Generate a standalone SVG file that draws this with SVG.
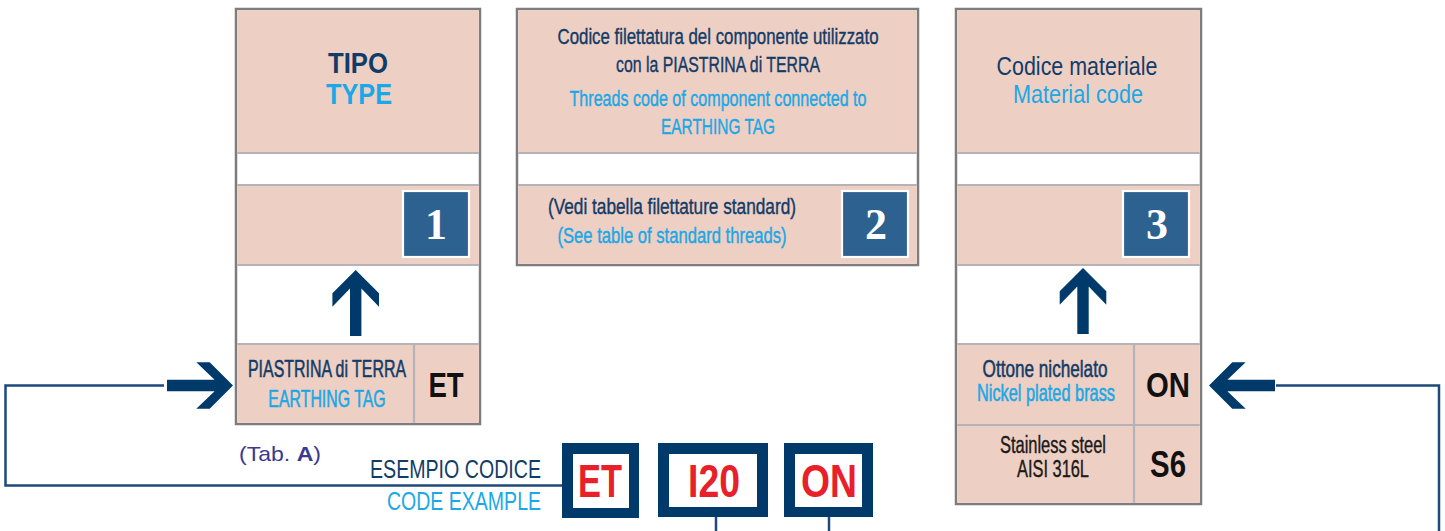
<svg xmlns="http://www.w3.org/2000/svg" xmlns:xlink="http://www.w3.org/1999/xlink" width="1445" height="531" viewBox="0 0 1445 531">
<style>
.frame{fill:#ffffff;stroke:#7d7d80;stroke-width:2.5}
.pink{fill:#eecfc3}
.sep{stroke:#b4b4b8;stroke-width:2.2;fill:none}
.badge{fill:#2d6190;stroke:#ffffff;stroke-width:2.2}
.num{font-family:"Liberation Serif","DejaVu Serif",serif;font-weight:bold;font-size:44px;fill:#ffffff;text-anchor:middle}
.t{font-family:"Liberation Sans Narrow","Liberation Sans",Arial,sans-serif;text-anchor:middle}
.c{stroke-width:0.4}
.cs{stroke-width:0.55}
.navy{fill:#123c68;stroke:#123c68}
.cyan{fill:#1aa8e6;stroke:#1aa8e6}
.blk{fill:#1a1a1a;stroke:#1a1a1a}
.plain{stroke:none}
.code{font-family:"Liberation Sans Narrow","Liberation Sans",Arial,sans-serif;font-weight:bold;text-anchor:middle;fill:#111111}
.arrow{fill:#003a6b}
.conn{stroke:#1d4a7b;stroke-width:2.5;fill:none}
.cbox{fill:#003a6b}
.cin{fill:#ffffff}
.red{font-family:"Liberation Sans Narrow","Liberation Sans",Arial,sans-serif;font-weight:bold;font-size:47px;fill:#e8202a;text-anchor:middle}
</style>
<defs>
<path id="arr" d="M0,0 L23.3,23.3 L23.3,36.7 L5.7,18.4 L5.7,66 L-5.7,66 L-5.7,18.4 L-23.3,36.7 L-23.3,23.3 Z"/>
</defs>

<g id="col1">
<rect class="frame" x="236" y="9" width="244" height="415"/>
<rect class="pink" x="237.3" y="10.3" width="241.4" height="142"/>
<rect class="pink" x="237.3" y="185" width="241.4" height="80"/>
<rect class="pink" x="237.3" y="344" width="241.4" height="78.7"/>
<line class="sep" x1="237.3" y1="153" x2="478.7" y2="153"/>
<line class="sep" x1="237.3" y1="185" x2="478.7" y2="185"/>
<line class="sep" x1="237.3" y1="265" x2="478.7" y2="265"/>
<line class="sep" x1="237.3" y1="344" x2="478.7" y2="344"/>
<line class="sep" x1="414" y1="344" x2="414" y2="422.7"/>
<text class="t navy plain" x="358" y="73" font-size="29" font-weight="bold" textLength="60" lengthAdjust="spacingAndGlyphs">TIPO</text>
<text class="t cyan plain" x="359" y="104" font-size="29" font-weight="bold" textLength="66" lengthAdjust="spacingAndGlyphs">TYPE</text>
<rect class="badge" x="403" y="191" width="66" height="66"/>
<text class="num" x="436" y="239">1</text>
<use xlink:href="#arr" class="arrow" transform="translate(355.7,270)"/>
<text class="t cs navy" transform="translate(327,377) scale(0.69,1)" font-size="23" textLength="229" lengthAdjust="spacingAndGlyphs">PIASTRINA di TERRA</text>
<text class="t cs cyan" transform="translate(327,407) scale(0.69,1)" font-size="23" textLength="170" lengthAdjust="spacingAndGlyphs">EARTHING TAG</text>
<text class="code" transform="translate(446,397) scale(0.75,1)" font-size="35" textLength="47" lengthAdjust="spacingAndGlyphs">ET</text>
</g>

<g id="col2">
<rect class="frame" x="517" y="9" width="401" height="256"/>
<rect class="pink" x="518.3" y="10.3" width="398.4" height="142"/>
<rect class="pink" x="518.3" y="185" width="398.4" height="78.7"/>
<line class="sep" x1="518.3" y1="153" x2="916.7" y2="153"/>
<line class="sep" x1="518.3" y1="185" x2="916.7" y2="185"/>
<text class="t c navy" x="718" y="44" font-size="22" textLength="321" lengthAdjust="spacingAndGlyphs">Codice filettatura del componente utilizzato</text>
<text class="t c navy" x="718" y="72" font-size="22" textLength="204" lengthAdjust="spacingAndGlyphs">con la PIASTRINA di TERRA</text>
<text class="t c cyan" x="718" y="106" font-size="22" textLength="297" lengthAdjust="spacingAndGlyphs">Threads code of component connected to</text>
<text class="t c cyan" x="718" y="134" font-size="22" textLength="114" lengthAdjust="spacingAndGlyphs">EARTHING TAG</text>
<text class="t c navy" x="672" y="214" font-size="22" textLength="248" lengthAdjust="spacingAndGlyphs">(Vedi tabella filettature standard)</text>
<text class="t c cyan" x="672" y="243" font-size="22" textLength="229" lengthAdjust="spacingAndGlyphs">(See table of standard threads)</text>
<rect class="badge" x="842" y="191" width="66" height="66"/>
<text class="num" x="876" y="239">2</text>
</g>

<g id="col3">
<rect class="frame" x="956" y="9" width="245" height="495"/>
<rect class="pink" x="957.3" y="10.3" width="242.4" height="142"/>
<rect class="pink" x="957.3" y="185" width="242.4" height="80"/>
<rect class="pink" x="957.3" y="344" width="242.4" height="158.7"/>
<line class="sep" x1="957.3" y1="153" x2="1199.7" y2="153"/>
<line class="sep" x1="957.3" y1="185" x2="1199.7" y2="185"/>
<line class="sep" x1="957.3" y1="265" x2="1199.7" y2="265"/>
<line class="sep" x1="957.3" y1="344" x2="1199.7" y2="344"/>
<line class="sep" x1="957.3" y1="425" x2="1199.7" y2="425"/>
<line class="sep" x1="1134" y1="344" x2="1134" y2="502.7"/>
<text x="1077" y="75" font-family="Liberation Sans,Arial,sans-serif" text-anchor="middle" fill="#123c68" font-size="25" textLength="161" lengthAdjust="spacingAndGlyphs">Codice materiale</text>
<text x="1078" y="103" font-family="Liberation Sans,Arial,sans-serif" text-anchor="middle" fill="#1aa8e6" font-size="25" textLength="130" lengthAdjust="spacingAndGlyphs">Material code</text>
<rect class="badge" x="1123" y="191" width="66" height="66"/>
<text class="num" x="1157" y="239">3</text>
<use xlink:href="#arr" class="arrow" transform="translate(1083,268)"/>
<text class="t cs navy" transform="translate(1045,377) scale(0.69,1)" font-size="23" textLength="181" lengthAdjust="spacingAndGlyphs">Ottone nichelato</text>
<text class="t cs cyan" transform="translate(1046,401) scale(0.69,1)" font-size="23" textLength="200" lengthAdjust="spacingAndGlyphs">Nickel plated brass</text>
<text class="code" transform="translate(1168,397) scale(0.8,1)" font-size="35" textLength="55" lengthAdjust="spacingAndGlyphs">ON</text>
<text class="t c blk" x="1053" y="453" font-size="23" textLength="106" lengthAdjust="spacingAndGlyphs">Stainless steel</text>
<text class="t c blk" x="1053" y="477" font-size="23" textLength="72" lengthAdjust="spacingAndGlyphs">AISI 316L</text>
<text class="code" x="1168" y="477" font-size="37" textLength="36" lengthAdjust="spacingAndGlyphs">S6</text>
</g>

<g id="example">
<text x="239" y="461" font-family="Liberation Sans,Arial,sans-serif" font-size="21" fill="#3a3a8f" textLength="82" lengthAdjust="spacingAndGlyphs">(Tab. <tspan font-weight="bold">A</tspan>)</text>
<text x="541" y="478" font-family="Liberation Sans Narrow,Liberation Sans,Arial,sans-serif" font-size="25" fill="#123c68" text-anchor="end" textLength="171" lengthAdjust="spacingAndGlyphs">ESEMPIO CODICE</text>
<text x="541" y="510" font-family="Liberation Sans Narrow,Liberation Sans,Arial,sans-serif" font-size="25" fill="#1aa8e6" text-anchor="end" textLength="154" lengthAdjust="spacingAndGlyphs">CODE EXAMPLE</text>
</g>

<g id="code-ET">
<rect class="cbox" x="562" y="443" width="77" height="75"/>
<rect class="cin" x="573" y="454" width="56" height="54"/>
<text class="red" x="600" y="497" textLength="44" lengthAdjust="spacingAndGlyphs">ET</text>
</g>
<g id="code-I20">
<rect class="cbox" x="658" y="443" width="110" height="74"/>
<rect class="cin" x="669" y="454" width="88" height="53"/>
<text class="red" x="714" y="497" textLength="52" lengthAdjust="spacingAndGlyphs">I20</text>
</g>
<g id="code-ON">
<rect class="cbox" x="784" y="443" width="89" height="74"/>
<rect class="cin" x="795" y="454" width="67" height="53"/>
<text class="red" x="829" y="497" textLength="56" lengthAdjust="spacingAndGlyphs">ON</text>
</g>

<g id="connectors">
<polyline class="conn" points="164,385.5 5.5,385.5 5.5,485.5 562,485.5"/>
<polyline class="conn" points="1276,385.5 1439,385.5 1439,531"/>
<line class="conn" x1="716" y1="517" x2="716" y2="531"/>
<line class="conn" x1="829" y1="517" x2="829" y2="531"/>
<use xlink:href="#arr" class="arrow" transform="translate(233,385.5) rotate(90)"/>
<use xlink:href="#arr" class="arrow" transform="translate(1209,385.5) rotate(-90)"/>
</g>
</svg>
